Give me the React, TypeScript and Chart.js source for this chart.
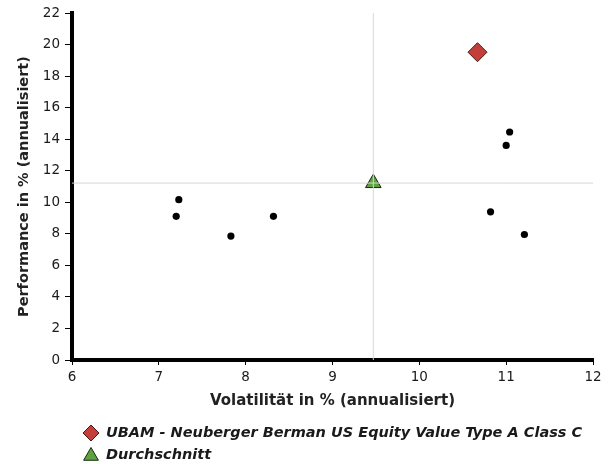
import React, { useEffect, useRef } from 'react';
import { Chart, registerables } from 'chart.js';

Chart.register(...registerables);

const FONT = '"DejaVu Sans", Verdana, sans-serif';

// Axis ticks
const xTicks = [6, 7, 8, 9, 10, 11, 12];
const yTicks = [0, 2, 4, 6, 8, 10, 12, 14, 16, 18, 20, 22];

// Series names
const seriesNames = ['UBAM - Neuberger Berman US Equity Value Type A Class C', 'Durchschnitt'];

// Fund (diamond)
const fundVol = [10.67];
const fundPerf = [19.52];

// Average (triangle)
const avgVol = [9.47];
const avgPerf = [11.22];

// Peer funds (black dots)
const peerVol = [7.23, 7.2, 7.83, 8.32, 11.04, 11.0, 10.82, 11.21];
const peerPerf = [10.17, 9.11, 7.86, 9.11, 14.46, 13.61, 9.4, 7.96];

const FUND_FILL = '#c43f3a';
const FUND_BORDER = '#4a1816';
const AVG_FILL = '#5ea240';
const AVG_BORDER = '#17280e';
const CROSS = '#d6d6d6';

function drawDiamond(ctx: CanvasRenderingContext2D, x: number, y: number, r: number) {
  ctx.beginPath();
  ctx.moveTo(x, y - r);
  ctx.lineTo(x + r, y);
  ctx.lineTo(x, y + r);
  ctx.lineTo(x - r, y);
  ctx.closePath();
}

function drawTriangle(ctx: CanvasRenderingContext2D, x: number, y: number, r: number) {
  ctx.beginPath();
  ctx.moveTo(x, y - r);
  ctx.lineTo(x + Math.sin((2 * Math.PI) / 3) * r, y - Math.cos((2 * Math.PI) / 3) * r);
  ctx.lineTo(x + Math.sin((4 * Math.PI) / 3) * r, y - Math.cos((4 * Math.PI) / 3) * r);
  ctx.closePath();
}

export default function App() {
  const ref = useRef<HTMLCanvasElement>(null);

  useEffect(() => {
    const canvas = ref.current;
    if (!canvas) return;

    const legendPlugin = {
      id: 'customLegend',
      afterDraw(chart: any) {
        const ctx: CanvasRenderingContext2D = chart.ctx;
        const left = chart.chartArea.left;
        const top = chart.scales.x.bottom;
        ctx.save();
        ctx.font = `italic bold 14.5px ${FONT}`;
        ctx.textBaseline = 'middle';
        ctx.textAlign = 'left';
        const items = [
          { text: seriesNames[0], kind: 'diamond', fill: FUND_FILL, border: FUND_BORDER },
          { text: seriesNames[1], kind: 'triangle', fill: AVG_FILL, border: AVG_BORDER },
        ];
        items.forEach((it, i) => {
          const cy = top + 17 + i * 22;
          const cx = left + 19;
          ctx.fillStyle = it.fill;
          ctx.strokeStyle = it.border;
          ctx.lineWidth = 1;
          if (it.kind === 'diamond') drawDiamond(ctx, cx, cy, 8);
          else drawTriangle(ctx, cx, cy + 1, 8.5);
          ctx.fill();
          ctx.stroke();
          ctx.fillStyle = '#1a1a1a';
          ctx.fillText(it.text, left + 34, cy);
        });
        ctx.restore();
      },
    };

    const chart = new Chart(canvas, {
      type: 'scatter',
      data: {
        datasets: [
          {
            label: 'v',
            data: [
              { x: avgVol[0], y: yTicks[0] },
              { x: avgVol[0], y: yTicks[yTicks.length - 1] },
            ],
            showLine: true,
            borderColor: CROSS,
            borderWidth: 1,
            pointRadius: 0,
            order: 0,
            clip: false,
          } as any,
          {
            label: 'h',
            data: [
              { x: xTicks[0], y: avgPerf[0] },
              { x: xTicks[xTicks.length - 1], y: avgPerf[0] },
            ],
            showLine: true,
            borderColor: CROSS,
            borderWidth: 1,
            pointRadius: 0,
            order: 0,
            clip: false,
          } as any,
          {
            label: seriesNames[0],
            data: fundVol.map((x, i) => ({ x, y: fundPerf[i] })),
            pointStyle: 'rectRot',
            pointRadius: 9.5,
            backgroundColor: FUND_FILL,
            borderColor: FUND_BORDER,
            borderWidth: 1,
            order: 1,
          },
          {
            label: seriesNames[1],
            data: avgVol.map((x, i) => ({ x, y: avgPerf[i] })),
            pointStyle: 'triangle',
            pointRadius: 9,
            backgroundColor: AVG_FILL,
            borderColor: AVG_BORDER,
            borderWidth: 1,
            order: 2,
          },
          {
            label: 'Peers',
            data: peerVol.map((x, i) => ({ x, y: peerPerf[i] })),
            pointStyle: 'circle',
            pointRadius: 3.6,
            backgroundColor: '#000',
            borderColor: '#000',
            borderWidth: 0,
            order: 3,
          },
        ],
      },
      options: {
        responsive: false,
        animation: false,
        events: [],
        layout: { padding: { left: 0, top: 13, right: 21, bottom: 48 } },
        plugins: {
          legend: { display: false },
          tooltip: { enabled: false },
        },
        scales: {
          x: {
            type: 'linear',
            min: xTicks[0],
            max: xTicks[xTicks.length - 1],
            afterBuildTicks: (s: any) => {
              s.ticks = xTicks.map((v) => ({ value: v }));
            },
            afterFit: (s: any) => {
              s.height = 56;
            },
            ticks: { font: { family: FONT, size: 13.5 }, color: '#1a1a1a', padding: 4, maxRotation: 0 },
            grid: { display: true, drawOnChartArea: false, drawTicks: true, tickLength: 5, color: '#000', lineWidth: 1 },
            border: { display: true, color: '#000', width: 4 },
            title: {
              display: true,
              text: 'Volatilität in % (annualisiert)',
              font: { family: FONT, size: 15, weight: 'bold' },
              color: '#222',
              padding: { top: 0, bottom: 6 },
            },
          },
          y: {
            type: 'linear',
            min: yTicks[0],
            max: yTicks[yTicks.length - 1],
            afterBuildTicks: (s: any) => {
              s.ticks = yTicks.map((v) => ({ value: v }));
            },
            afterFit: (s: any) => {
              s.width = 72;
            },
            ticks: { font: { family: FONT, size: 13.5 }, color: '#1a1a1a', padding: 5 },
            grid: { display: true, drawOnChartArea: false, drawTicks: true, tickLength: 7, color: '#000', lineWidth: 1 },
            border: { display: true, color: '#000', width: 4 },
            title: {
              display: true,
              text: 'Performance in % (annualisiert)',
              font: { family: FONT, size: 14.5, weight: 'bold' },
              color: '#222',
              padding: { top: 16, bottom: 0 },
            },
          },
        },
      },
      plugins: [legendPlugin],
    });

    return () => chart.destroy();
  }, []);

  return (
    <div style={{ position: 'absolute', left: 0, top: 0, width: 614, height: 464 }}>
      <canvas ref={ref} width={614} height={464} style={{ display: 'block' }} />
    </div>
  );
}
